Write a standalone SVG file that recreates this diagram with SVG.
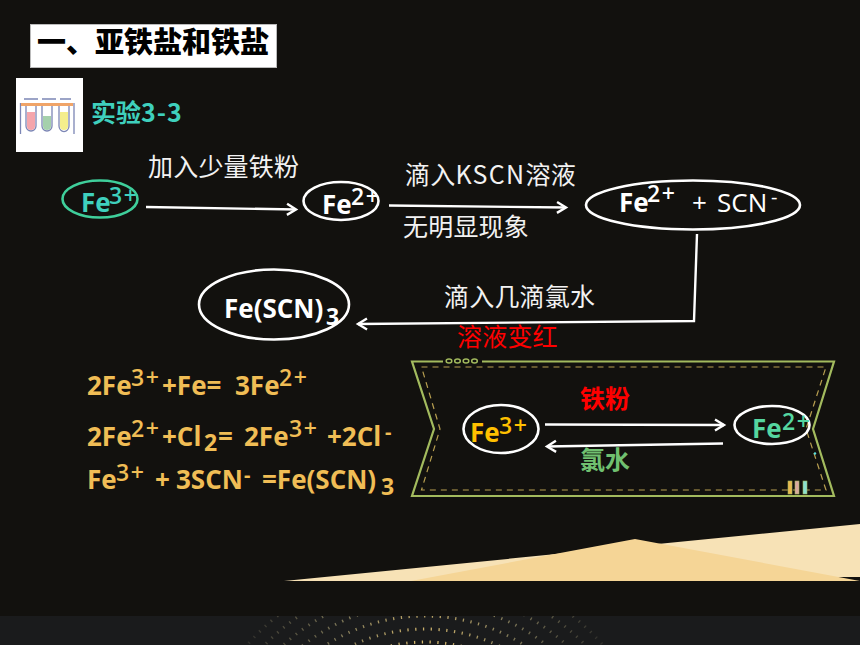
<svg xmlns="http://www.w3.org/2000/svg" width="860" height="645" viewBox="0 0 860 645">
<style>
text{font-family:"Open Sans","Noto Sans CJK SC",sans-serif}
.cn{font-family:"Noto Sans CJK SC",sans-serif;font-size:25px;letter-spacing:.2px;fill:#f2f2f2}
.b{font-family:"Noto Sans CJK SC",sans-serif;font-weight:700;font-size:25px}
.f{font-weight:700;font-size:26px;fill:#fff}
.s{font-weight:600;font-size:23px;letter-spacing:1.5px;fill:#fff}
.e{font-weight:700;font-size:26px;fill:#f0bd55}
.es{font-weight:600;font-size:23px;letter-spacing:1.5px;fill:#f0bd55}
.sb{font-size:23px}
.el{fill:none;stroke:#fff;stroke-width:2.6}
.ln{fill:none;stroke:#fff;stroke-width:2.4}
.dots{fill:none;stroke:url(#dg);stroke-width:3;stroke-dasharray:1.3 6.500}
</style>
<defs>
<marker id="ah" markerUnits="userSpaceOnUse" markerWidth="14" markerHeight="14" refX="11" refY="7" orient="auto"><path d="M2 1.500L11 7L2 12.500" fill="none" stroke="#fff" stroke-width="2.400"/></marker>
<radialGradient id="dg" gradientUnits="userSpaceOnUse" cx="425" cy="650" r="190"><stop offset="0" stop-color="#e0c070"/><stop offset=".45" stop-color="#7f7858"/><stop offset="1" stop-color="#252525"/></radialGradient>
</defs>
<rect width="860" height="645" fill="#12110e"/>
<g id="footer">
<rect y="616" width="860" height="29" fill="#1a1b1c"/>
<circle class="dots" cx="425" cy="800" r="158"/>
<circle class="dots" cx="425" cy="800" r="171"/>
<circle class="dots" cx="425" cy="800" r="184"/>
<circle class="dots" cx="425" cy="800" r="197"/>
<circle class="dots" cx="425" cy="800" r="210"/>
<circle class="dots" cx="425" cy="800" r="223"/>
<circle class="dots" cx="425" cy="800" r="236"/>
<rect y="500" width="860" height="116" fill="#12110e"/>
</g>
<g id="mountains">
<path d="M284 581L860 524V577H838L700 581Z" fill="#f7e2b6"/>
<path d="M411 581L635 539L860 581Z" fill="#f5d596"/>
</g>
<g id="title">
<rect x="30.500" y="24.500" width="246" height="43" fill="#fff" stroke="#bbb"/>
<text x="37" y="53" style="font-family:'Noto Sans CJK SC',sans-serif;font-weight:900;font-size:29px" fill="#000">一、亚铁盐和铁盐</text>
</g>
<g id="icon">
<rect x="16" y="78" width="67" height="74" fill="#fff"/>
<g fill="none" stroke="#7c86b5" stroke-width="1.300">
<path d="M20.500 134V103M74 134V103M24 99H38M42 99H56M60 99H71"/>
<path d="M26 104V126a5 5 0 0 0 10 0V104M42 104V126a5 5 0 0 0 10 0V104M59 104V126a4.500 5 0 0 0 10 0V104"/>
</g>
<path d="M27 112H35V126a4 4 0 0 1-8 0Z" fill="#f5a5ab"/>
<path d="M43 116H51V126a4 4 0 0 1-8 0Z" fill="#a5d0ac"/>
<path d="M60 112H68V126a4 4 0 0 1-8 0Z" fill="#f4ee8c"/>
<rect x="21" y="103" width="52" height="3" fill="#f0a468"/>
</g>
<text id="exp" x="91" y="122" class="b" fill="#3fd0bd">实验<tspan letter-spacing="1">3-3</tspan></text>

<g id="connectors">
<path class="ln" marker-end="url(#ah)" d="M146 207L296 209.500"/>
<path class="ln" marker-end="url(#ah)" d="M389 205.500L566 207.500"/>
<path class="ln" marker-end="url(#ah)" d="M697 234L694 321L358 324"/>
<path class="ln" marker-end="url(#ah)" d="M545 424.500L724 425"/>
<path class="ln" marker-end="url(#ah)" d="M723 443.500L547 446.500"/>
</g>

<g id="n-fe3">
<ellipse cx="100" cy="199" rx="37.500" ry="18.500" fill="none" stroke="#3fcf9b" stroke-width="2.600"/>
<text x="81" y="212" class="f" style="fill:#3fd0bd">Fe</text><text x="109" y="204" class="s" style="fill:#3fd0bd">3+</text>
</g>
<g id="n-fe2">
<ellipse class="el" cx="341" cy="201" rx="37.500" ry="19"/>
<text x="322" y="214" class="f">Fe</text><text x="351" y="205" class="s">2+</text>
</g>
<g id="n-fe2scn">
<ellipse class="el" cx="693" cy="205" rx="107" ry="24.500"/>
<text x="619" y="212" class="f">Fe</text><text x="647" y="202" class="s">2+</text>
<text x="692" y="212" style="font-size:26px" fill="#fff">+</text><text x="717" y="212" style="font-size:26px" fill="#fff">SCN</text><text x="771" y="204" style="font-size:20px" fill="#fff">-</text>
</g>
<g id="n-fescn">
<ellipse class="el" cx="274" cy="304.500" rx="75" ry="35"/>
<text x="224" y="318" class="f">Fe(SCN)</text><text x="326" y="325" class="f sb">3</text>
</g>

<g id="labels">
<text x="148" y="176" class="cn">加入少量铁粉</text>
<text x="405" y="184" class="cn">滴入<tspan letter-spacing="1.300">KSCN</tspan>溶液</text>
<text x="403" y="236" class="cn">无明显现象</text>
<text x="444" y="306" class="cn">滴入几滴氯水</text>
<text x="457" y="346" class="cn" style="fill:#f00">溶液变红</text>
</g>

<g id="equations">
<text class="e" x="87" y="395">2Fe</text><text class="es" x="131" y="386">3+</text><text class="e" x="162" y="395">+Fe=</text><text class="e" x="235" y="395">3Fe</text><text class="es" x="279" y="386">2+</text>
<text class="e" x="87" y="446">2Fe</text><text class="es" x="131" y="437">2+</text><text class="e" x="162" y="446">+Cl</text><text class="e sb" x="204" y="451">2</text><text class="e" x="218" y="446">=</text><text class="e" x="244" y="446">2Fe</text><text class="es" x="289" y="437">3+</text><text class="e" x="327" y="446">+2Cl</text><text class="e" x="385" y="439" style="font-size:20px">-</text>
<text class="e" x="87" y="489">Fe</text><text class="es" x="116" y="481">3+</text><text class="e" x="155" y="489">+</text><text class="e" x="176" y="489">3SCN</text><text class="e" x="244" y="482" style="font-size:20px">-</text><text class="e" x="262" y="489">=Fe(SCN)</text><text class="e sb" x="381" y="495">3</text>
</g>

<g id="panel">
<path d="M443 361.500H412L434 429L412 496H834L813 429L834 361.500H482" fill="none" stroke="#a3bb5e" stroke-width="2.200"/>
<g fill="none" stroke="#a3bb5e" stroke-width="1.500">
<ellipse cx="449" cy="361" rx="2.800" ry="2"/><ellipse cx="457.500" cy="361" rx="2.800" ry="2"/><ellipse cx="466" cy="361" rx="2.800" ry="2"/><ellipse cx="474.500" cy="361" rx="2.800" ry="2"/>
</g>
<path d="M421.500 367H826L806 429L826 490H421.500L440 429Z" fill="none" stroke="#b89f50" stroke-width="1.200" stroke-dasharray="6 5"/>
<rect x="788" y="481" width="4" height="13" fill="#e8b84e" stroke="#a3bb5e" stroke-width=".6"/><rect x="795" y="481" width="4" height="13" fill="#d9a9a0" stroke="#a3bb5e" stroke-width=".6"/><rect x="803" y="481" width="4" height="13" fill="#8be0d0" stroke="#a3bb5e" stroke-width=".6"/>
<circle cx="815" cy="453.500" r="1.200" fill="#5de0e0"/>
</g>
<g id="n-fe3b">
<ellipse class="el" cx="501" cy="429" rx="37.500" ry="24"/>
<text x="470" y="442" class="f" style="fill:#ffc000">Fe</text><text x="499" y="434" class="s" style="fill:#ffc000">3+</text>
</g>
<g id="n-fe2b">
<ellipse class="el" cx="772" cy="425" rx="37.500" ry="19"/>
<text x="752" y="438" class="f" style="fill:#55d6a0">Fe</text><text x="782" y="430" class="s" style="fill:#55d6a0">2+</text>
</g>
<text x="580" y="408" class="b" fill="#f00">铁粉</text>
<text x="580" y="469" class="b" fill="#70c070">氯水</text>
</svg>
